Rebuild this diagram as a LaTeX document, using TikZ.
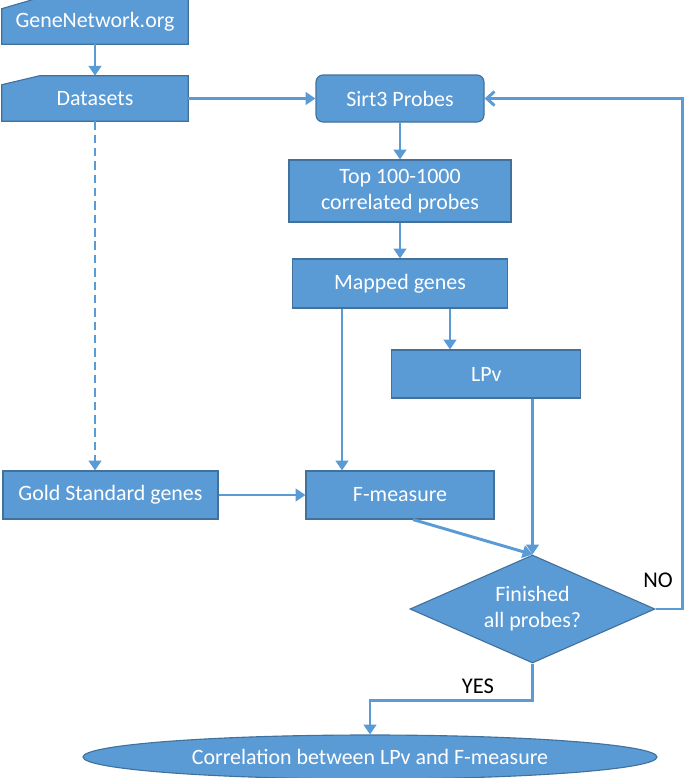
\documentclass[tikz,border=0pt]{standalone}
\usepackage{fontspec}
\setmainfont{Carlito}
\usetikzlibrary{positioning,arrows.meta,shapes.geometric,backgrounds}
\definecolor{boxblue}{HTML}{5B9BD5}
\definecolor{edgeblue}{HTML}{41719C}
\begin{document}
\begin{tikzpicture}[
    box/.style={rectangle, draw=edgeblue, line width=0.8pt, fill=boxblue, text=white, align=center, inner sep=0pt, font=\fontsize{15.6}{18.5}\selectfont},
    manual/.style={rectangle, text=white, inner sep=0pt, minimum width=4.65cm, minimum height=1.125cm, font=\fontsize{15.6}{18.5}\selectfont},
    manfill/.style={draw=edgeblue, line width=0.8pt, fill=boxblue},
    arrow/.style={draw=boxblue, line width=2.1pt, -{Triangle[width=9pt,length=7pt]}},
    lbl/.style={font=\fontsize{16}{19}\selectfont}
]
    \useasboundingbox (0,0) rectangle (17.125,-19.45);

    \node[manual] (ds) at (2.375,-2.4625) {Datasets};
    \node[manual, above of=ds, node distance=1.925cm] (gn) {GeneNetwork.org};
    \node[box, rounded corners=5pt, minimum width=4.2cm, minimum height=1.175cm] (sirt) at (10,-2.4625) {Sirt3 Probes};
    \node[box, below of=sirt, node distance=2.3125cm, minimum width=5.55cm, minimum height=1.55cm] (top) {Top 100-1000\\correlated probes};
    \node[box, below of=top, node distance=2.3125cm, minimum width=5.375cm, minimum height=1.225cm] (map) {Mapped genes};
    \node[box, minimum width=4.725cm, minimum height=1.2cm] (lpv) at (12.16,-9.35) {LPv};
    \node[box, below of=map, node distance=5.2875cm, minimum width=4.7cm, minimum height=1.2cm] (fm) {F-measure};
    \node[box, left of=fm, node distance=7.2375cm, minimum width=5.375cm, minimum height=1.2cm] (gold) {Gold Standard genes};
    \node[box, diamond, aspect=2.27, minimum width=6.125cm, minimum height=2.7cm] (dia) at (13.3125,-15.225) {Finished\\all probes?};
    \node[box, ellipse, minimum width=14.35cm, minimum height=1.1cm] (ell) at (9.25,-18.925) {Correlation between LPv and F-measure};

    % manual input shapes behind their text
    \begin{scope}[on background layer]
        \draw[manfill] (gn.south west) -- ([yshift=-0.25cm]gn.north west) -- ([xshift=0.85cm]gn.north west) -- (gn.north east) -- (gn.south east) -- cycle;
        \draw[manfill] (ds.south west) -- ([yshift=-0.225cm]ds.north west) -- ([xshift=0.95cm]ds.north west) -- (ds.north east) -- (ds.south east) -- cycle;
    \end{scope}

    \draw[arrow] (gn.south -| ds.north) -- (ds.north);
    \draw[arrow] (ds.east) -- (sirt.west);
    \draw[arrow, dash pattern=on 6pt off 3.5pt] (ds.south) -- (ds.south |- gold.north);
    \draw[arrow] (sirt) -- (top);
    \draw[arrow] (top) -- (map);
    \draw[arrow] ([xshift=-1.45cm]map.south) -- ([xshift=-1.45cm]map.south |- fm.north);
    \draw[arrow] ([xshift=1.25cm]map.south) -- ([xshift=1.25cm]map.south |- lpv.north);
    \draw[arrow] (gold) -- (fm);
    \draw[arrow] (lpv.south -| dia.north) -- (dia.north);
    \draw[arrow] ([xshift=0.325cm]fm.south) -- (dia.north);
    \draw[arrow, -{Straight Barb[width=10pt,length=5.5pt]}] (dia.east) -- ++(0.675,0) |- (sirt.east);
    \draw[arrow] (dia.south) -- ++(0,-0.925) -| (ell.north);

    \node[lbl] (no) at (16.45,-14.5) {NO};
    \node[lbl] (yes) at (11.95,-17.15) {YES};
\end{tikzpicture}
\end{document}
